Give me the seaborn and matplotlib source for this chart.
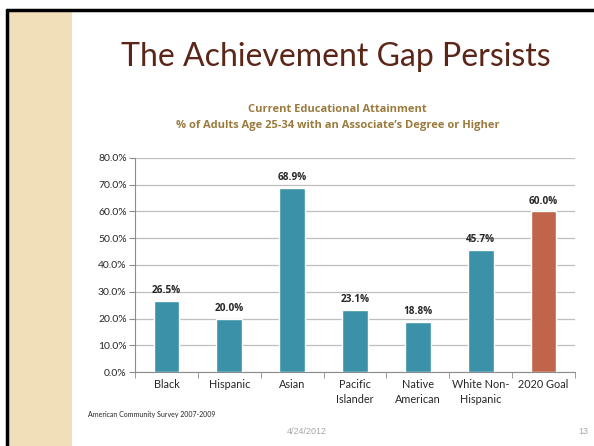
import seaborn as sns
import matplotlib.pyplot as plt
import pandas as pd
from matplotlib.patches import Rectangle
from matplotlib.lines import Line2D
from matplotlib.ticker import PercentFormatter, FixedLocator

categories = ["Black", "Hispanic", "Asian", "Pacific\nIslander", "Native\nAmerican",
              "White Non-\nHispanic", "2020 Goal"]
values = [26.5, 20.0, 68.9, 23.1, 18.8, 45.7, 60.0]
kinds = ["actual", "actual", "actual", "actual", "actual", "actual", "goal"]
palette = {"actual": "#3A91A8", "goal": "#C0644B"}

df = pd.DataFrame({"group": categories, "pct": values, "kind": kinds})

sns.set_style("white")
plt.rcParams['font.family'] = ['Lato', 'DejaVu Sans']
bold_font = ["Open Sans", "DejaVu Sans"]

fig = plt.figure(figsize=(5.94, 4.46), dpi=100)

# slide decoration
fig.patches.append(Rectangle((7 / 594, 0), 65 / 594, 1 - 10 / 446, transform=fig.transFigure,
                             facecolor="#F0DFB9", edgecolor="none", zorder=0))
fig.lines.append(Line2D([7 / 594, 7 / 594], [0, 1 - 10 / 446], transform=fig.transFigure,
                        color="black", lw=2.5))
fig.lines.append(Line2D([7 / 594, 1], [1 - 10 / 446, 1 - 10 / 446], transform=fig.transFigure,
                        color="black", lw=2.5))

ax = fig.add_axes([135 / 594, 1 - 372 / 446, 440 / 594, 214 / 446])
sns.barplot(data=df, x="group", y="pct", hue="kind", palette=palette, dodge=False,
            width=0.41, saturation=1, legend=False, ax=ax, zorder=3)

ax.set_ylim(0, 80)
ax.set_yticks(range(0, 81, 10))
ax.yaxis.set_major_formatter(PercentFormatter(decimals=1))
ax.set_xlim(-0.5, len(categories) - 0.5)
ax.grid(axis="y", color="#BFBFBF", lw=0.9, zorder=0)
for s in ["top", "right"]:
    ax.spines[s].set_visible(False)
ax.spines["left"].set_color("#8C8C8C")
ax.spines["bottom"].set_color("#8C8C8C")
ax.tick_params(axis="y", length=4, color="#8C8C8C", labelsize=7.5, direction="out", left=True, pad=2)
ax.tick_params(axis="x", length=0, labelsize=7.8, pad=5)
for lbl in ax.get_xticklabels():
    lbl.set_linespacing(1.45)
ax.xaxis.set_minor_locator(FixedLocator([i + 0.5 for i in range(-1, len(categories))]))
ax.tick_params(axis="x", which="minor", length=4, color="#8C8C8C", bottom=True)
ax.set_xlabel("")
ax.set_ylabel("")

for i, v in enumerate(values):
    ax.text(i, v + 1.8, f"{v:.1f}%", ha="center", va="bottom", fontsize=7.2,
            fontweight="bold", family=bold_font)

fig.text(0.566, 1 - 57 / 446, "The Achievement Gap Persists", ha="center", va="center",
         fontsize=23, color="#5B2617")
fig.text(0.568, 1 - 110 / 446, "Current Educational Attainment", ha="center", va="center",
         fontsize=8, color="#9A7B3E", fontweight="bold", family=bold_font)
fig.text(0.568, 1 - 126 / 446, "% of Adults Age 25-34 with an Associate\u2019s Degree or Higher",
         ha="center", va="center", fontsize=8, color="#9A7B3E", fontweight="bold",
         family=bold_font)
fig.text(88 / 594, 1 - 415 / 446, "American Community Survey 2007-2009", ha="left", va="center",
         fontsize=5)
fig.text(307 / 594, 1 - 432 / 446, "4/24/2012", ha="center", va="center", fontsize=6.5,
         color="#A6A6A6", family=["Liberation Sans"])
fig.text(583 / 594, 1 - 432 / 446, "13", ha="center", va="center", fontsize=6.5,
         color="#A6A6A6", family=["Liberation Sans"])

fig.savefig("out.png", dpi=100)
